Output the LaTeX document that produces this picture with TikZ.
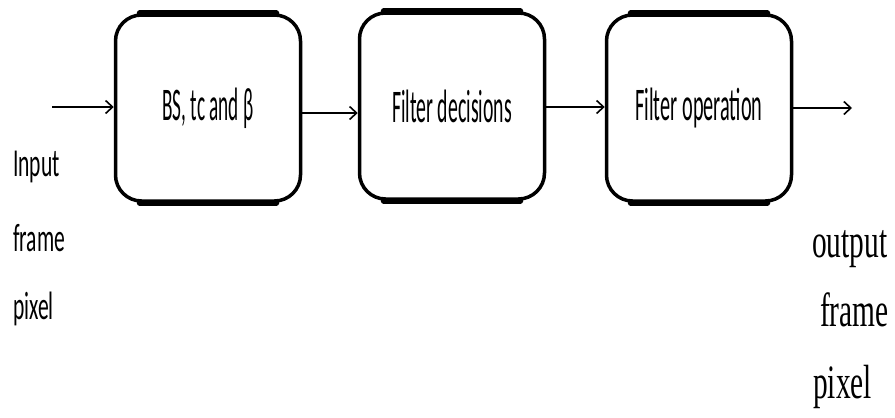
\documentclass[tikz,border=0pt]{standalone}
\usepackage{fontspec}
\usepackage{graphicx}
\setmainfont{Carlito}
\newfontfamily\outfont{Liberation Serif}
\usetikzlibrary{arrows.meta}
\begin{document}
\begin{tikzpicture}[x=1pt,y=-1pt,
  blockbox/.style={draw, line width=3.5pt, rounded corners=26pt, minimum width=185pt, minimum height=186pt, inner sep=0pt, font=\fontsize{26}{30}\selectfont},
  thickedge/.style={line width=6pt, line cap=round},
  flow/.style={line width=2pt, -{Straight Barb[length=7pt,width=13pt,line width=1.6pt]}},
  sidelabel/.style={anchor=base west, inner sep=0pt, font=\fontsize{22}{26}\selectfont},
  outlabel/.style={anchor=base west, inner sep=0pt, font=\outfont\fontsize{30}{34}\selectfont}]
\useasboundingbox (0,0) rectangle (895,418);
\node[blockbox] (b1) at (208,108) {\scalebox{0.74}[1.8]{BS, tc and β}};
\node[blockbox] (b2) at (452,106) {\scalebox{0.76}[1.8]{Filter decisions}};
\node[blockbox] (b3) at (699,108) {\scalebox{0.78}[1.8]{Filter operation}};
\foreach \b in {b1,b2,b3}{
  \draw[thickedge] ([xshift=26pt]\b.north west) -- ([xshift=-26pt]\b.north east);
  \draw[thickedge] ([xshift=26pt]\b.south west) -- ([xshift=-26pt]\b.south east);
}
\coordinate (in) at (52,107);
\coordinate (out) at (852,108);
\draw[flow] (in) -- (b1.west |- in);
\draw[flow] (b1.east |- 0,113) -- (b2.west |- 0,113);
\draw[flow] (b2.east |- 0,107) -- (b3.west |- 0,107);
\draw[flow] (b3.east |- out) -- (out);
\node[sidelabel] (l1) at (13,176) {\scalebox{0.98}[1.8]{Input}};
\node[sidelabel] (l2) at (13,251) {\scalebox{0.98}[1.8]{frame}};
\node[sidelabel] (l3) at (13,319) {\scalebox{0.98}[1.8]{pixel}};
\node[outlabel] (o1) at (812,257) {\scalebox{0.98}[1.6]{output}};
\node[outlabel] (o2) at (820,326) {\scalebox{0.98}[1.6]{frame}};
\node[outlabel] (o3) at (813,398) {\scalebox{0.98}[1.6]{pixel}};
\end{tikzpicture}
\end{document}
